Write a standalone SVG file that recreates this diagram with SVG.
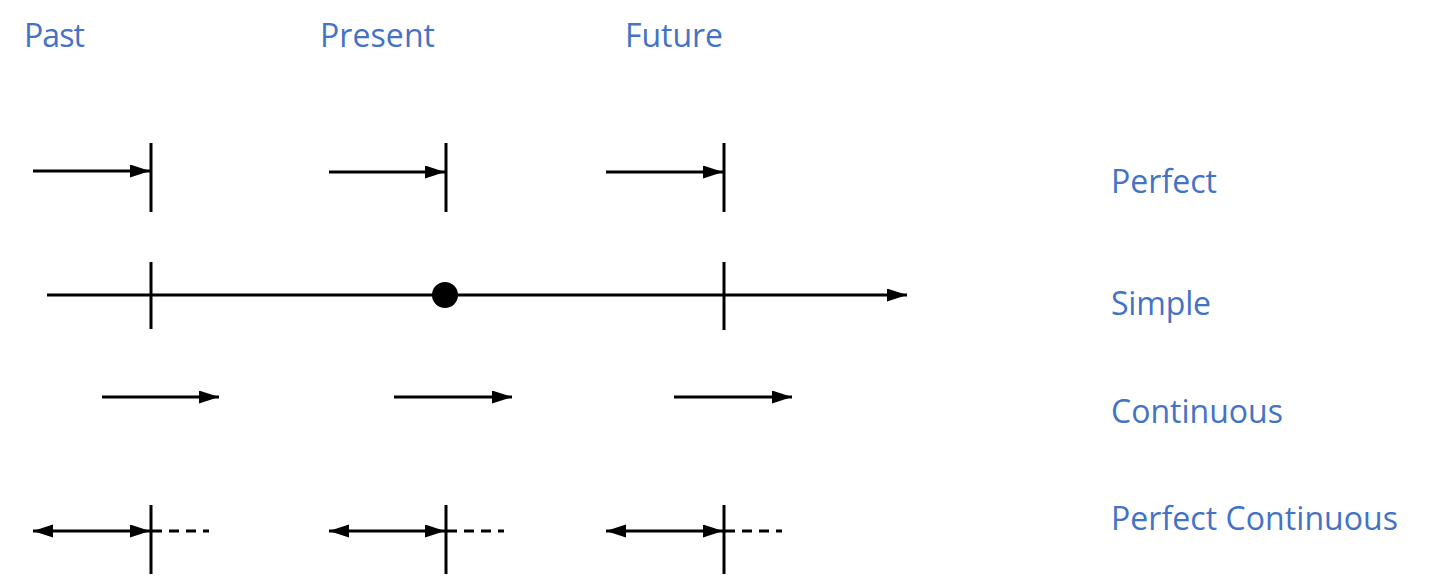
<svg xmlns="http://www.w3.org/2000/svg" width="1438" height="576" viewBox="0 0 1438 576">
<style>
.lbl{font-family:"Open Sans","Liberation Sans",sans-serif;font-size:32px;fill:#4472C4}
.ln{stroke:#000;stroke-width:3;fill:none}
.dash{stroke:#000;stroke-width:3;fill:none;stroke-dasharray:10 7}
</style>
<defs>
<marker id="ah" markerUnits="userSpaceOnUse" markerWidth="22" markerHeight="14" refX="20" refY="6.5" orient="auto">
<path d="M0,0 L20,6.5 L0,13 Z" fill="#000"/>
</marker>
<marker id="as" markerUnits="userSpaceOnUse" markerWidth="22" markerHeight="14" refX="20" refY="6.5" orient="auto-start-reverse">
<path d="M0,0 L20,6.5 L0,13 Z" fill="#000"/>
</marker>
</defs>
<rect width="1438" height="576" fill="#fff"/>
<g id="headers">
<text class="lbl" x="24" y="47" textLength="61">Past</text>
<text class="lbl" x="320" y="47" textLength="115">Present</text>
<text class="lbl" x="625" y="47" textLength="98">Future</text>
</g>
<g id="row-labels">
<text class="lbl" x="1111" y="193" textLength="106">Perfect</text>
<text class="lbl" x="1111" y="315" textLength="100">Simple</text>
<text class="lbl" x="1111" y="423" textLength="172">Continuous</text>
<text class="lbl" x="1111" y="530" textLength="287">Perfect Continuous</text>
</g>
<g id="ticks">
<line class="ln" x1="151" y1="143" x2="151" y2="212"/>
<line class="ln" x1="446" y1="143" x2="446" y2="212"/>
<line class="ln" x1="724" y1="143" x2="724" y2="212"/>
<line class="ln" x1="151" y1="262" x2="151" y2="329"/>
<line class="ln" x1="724" y1="262" x2="724" y2="330"/>
<line class="ln" x1="151" y1="505" x2="151" y2="574"/>
<line class="ln" x1="446" y1="505" x2="446" y2="574"/>
<line class="ln" x1="724" y1="505" x2="724" y2="574"/>
</g>
<g id="present-dot">
<circle cx="445" cy="295" r="13" fill="#000"/>
</g>
<g id="connectors">
<line class="ln" x1="33" y1="171" x2="150" y2="171" marker-end="url(#ah)"/>
<line class="ln" x1="329" y1="172" x2="445" y2="172" marker-end="url(#ah)"/>
<line class="ln" x1="606" y1="172" x2="723" y2="172" marker-end="url(#ah)"/>
<line class="ln" x1="47" y1="295" x2="907" y2="295" marker-end="url(#ah)"/>
<line class="ln" x1="102" y1="397" x2="219" y2="397" marker-end="url(#ah)"/>
<line class="ln" x1="394" y1="397" x2="512" y2="397" marker-end="url(#ah)"/>
<line class="ln" x1="674" y1="397" x2="792" y2="397" marker-end="url(#ah)"/>
<line class="ln" x1="33" y1="531" x2="150" y2="531" marker-start="url(#as)" marker-end="url(#ah)"/>
<line class="ln" x1="329" y1="531" x2="445" y2="531" marker-start="url(#as)" marker-end="url(#ah)"/>
<line class="ln" x1="606" y1="531" x2="723" y2="531" marker-start="url(#as)" marker-end="url(#ah)"/>
<line class="dash" x1="152" y1="531" x2="209" y2="531"/>
<line class="dash" x1="447" y1="531" x2="504" y2="531"/>
<line class="dash" x1="725" y1="531" x2="782" y2="531"/>
</g>
</svg>
